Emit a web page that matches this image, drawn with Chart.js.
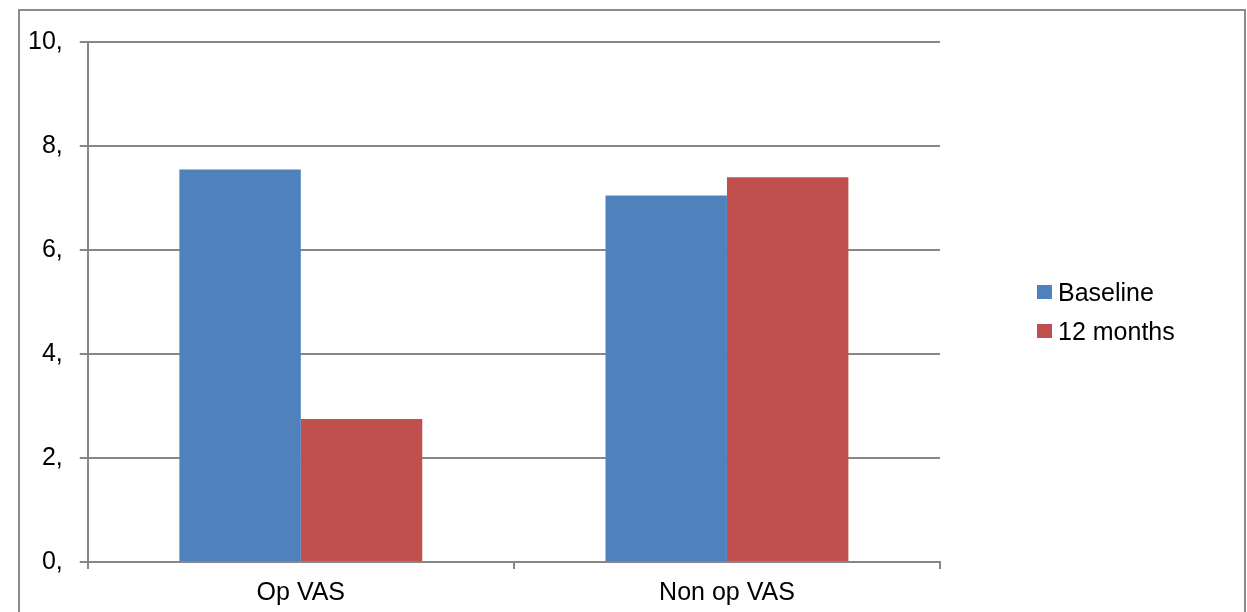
<!DOCTYPE html>
<html>
<head>
<meta charset="utf-8">
<script src="https://cdn.jsdelivr.net/npm/chart.js@4"></script>
<style>
  html, body { margin: 0; padding: 0; background: #fff; overflow: hidden; }
  #wrap { width: 1247px; height: 640px; }
</style>
</head>
<body>
<div id="wrap"><canvas id="vasChart" width="1247" height="640"></canvas></div>
<script>
// values
const categories = ['Op VAS', 'Non op VAS'];
const baseline = [7.55, 7.05];
const months12 = [2.75, 7.40];
const seriesNames = ['Baseline', '12 months'];
const yTicks = [0, 2, 4, 6, 8, 10];

const gridGray = '#878787';
const fontFam = '"Liberation Sans", Arial, sans-serif';

// outer frame like the office chart border
const framePlugin = {
  id: 'frame',
  beforeDraw(chart) {
    const ctx = chart.ctx;
    ctx.save();
    ctx.strokeStyle = '#8c8c8c';
    ctx.lineWidth = 2;
    ctx.strokeRect(19, 10, 1226, 660);
    ctx.restore();
  }
};

// legend drawn by hand so it can sit where the original one sits
const sideLegend = {
  id: 'sideLegend',
  afterDraw(chart) {
    const ctx = chart.ctx;
    ctx.save();
    ctx.font = '25px ' + fontFam;
    ctx.textBaseline = 'alphabetic';
    chart.data.datasets.forEach((ds, i) => {
      const y = 292 + i * 39;
      ctx.fillStyle = ds.backgroundColor;
      ctx.fillRect(1037, y - 7, 15, 14);
      ctx.fillStyle = '#000';
      ctx.fillText(ds.label, 1058, y + 8.5);
    });
    ctx.restore();
  }
};

const canvas = document.getElementById('vasChart');
new Chart(canvas, {
  type: 'bar',
  data: {
    labels: categories,
    datasets: [
      {
        label: seriesNames[0],
        data: baseline,
        backgroundColor: '#4F81BD',
        categoryPercentage: 0.57,
        barPercentage: 1.0
      },
      {
        label: seriesNames[1],
        data: months12,
        backgroundColor: '#C0504D',
        categoryPercentage: 0.57,
        barPercentage: 1.0
      }
    ]
  },
  options: {
    responsive: false,
    animation: false,
    devicePixelRatio: 1,
    layout: {
      padding: { left: 11, right: 307, top: 42, bottom: 23 }
    },
    plugins: {
      legend: { display: false },
      tooltip: { enabled: false }
    },
    scales: {
      x: {
        grid: {
          offset: true,
          drawOnChartArea: false,
          drawTicks: true,
          tickLength: 7,
          color: gridGray,
          lineWidth: 2
        },
        border: { display: true, color: gridGray, width: 2 },
        ticks: {
          color: '#000',
          padding: 9,
          font: { family: fontFam, size: 25 }
        }
      },
      y: {
        min: 0,
        max: 10,
        afterBuildTicks(scale) {
          scale.ticks = yTicks.map(v => ({ value: v }));
        },
        grid: {
          color: gridGray,
          lineWidth: 2,
          drawTicks: true,
          tickLength: 8
        },
        border: { display: true, color: gridGray, width: 2 },
        ticks: {
          color: '#000',
          padding: 17,
          font: { family: fontFam, size: 25 },
          callback: (v) => v + ','
        }
      }
    }
  },
  plugins: [framePlugin, sideLegend]
});
</script>
</body>
</html>
